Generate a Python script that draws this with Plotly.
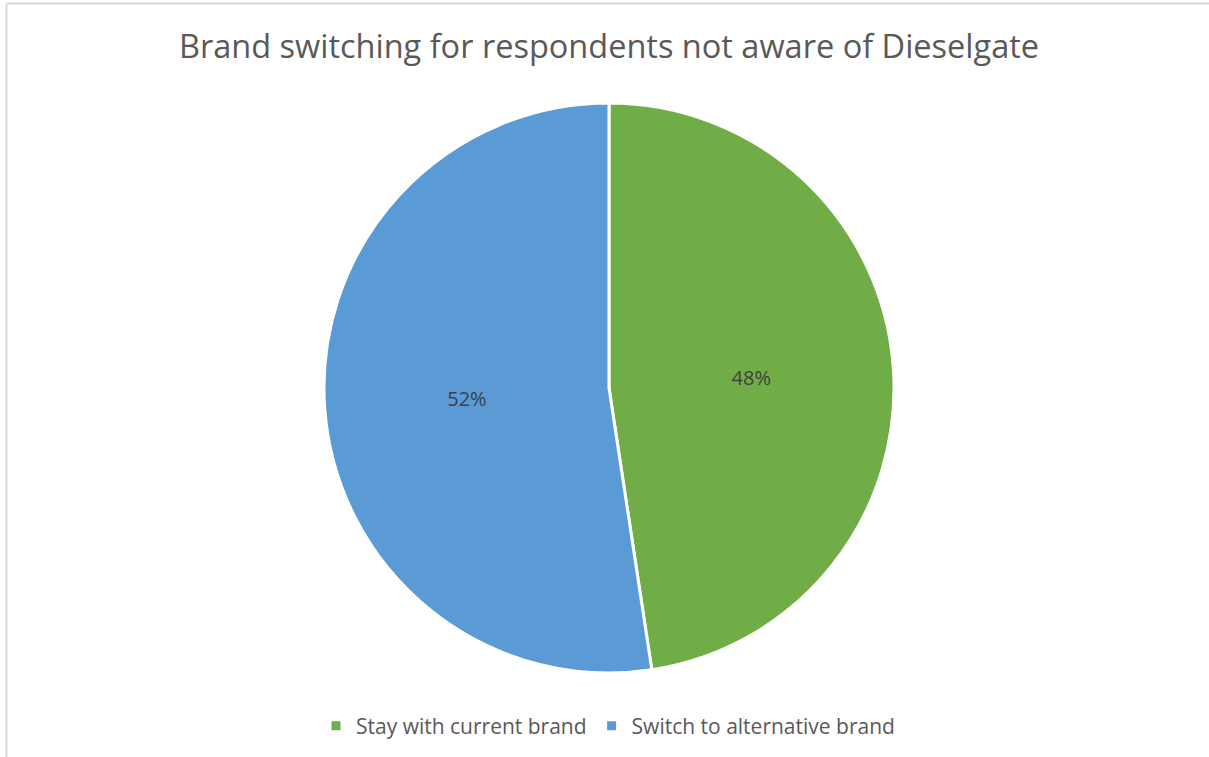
import plotly.graph_objects as go

title_text = "Brand switching for respondents not aware of Dieselgate"
categories = ["Stay with current brand", "Switch to alternative brand"]
values = [47.6, 52.4]
colors = ["#70AD47", "#5B9BD5"]

W, H = 1209, 757

fig = go.Figure(go.Pie(
    labels=categories,
    values=values,
    sort=False,
    direction="clockwise",
    rotation=0,
    marker=dict(colors=colors, line=dict(color="white", width=3)),
    texttemplate="%{percent:.0%}",
    textposition="inside",
    insidetextorientation="horizontal",
    textfont=dict(family="Open Sans", size=20, color="#404040"),
    hoverinfo="label+percent",
    domain=dict(x=[9 / W, 1], y=[(H - 673) / H, (H - 103) / H]),
))

fig.update_layout(
    width=W, height=H,
    margin=dict(l=0, r=0, t=0, b=0),
    paper_bgcolor="white",
    plot_bgcolor="white",
    title=dict(text=title_text, x=609 / W, xanchor="center", y=1 - 47 / H, yanchor="middle",
               font=dict(family="Open Sans", size=32.5, color="#595959")),
    legend=dict(orientation="h", x=608 / W, xanchor="center", y=1 - 726 / H, yanchor="middle",
                font=dict(family="Open Sans", size=21, color="#595959"),
                itemwidth=30, traceorder="normal"),
    shapes=[
        dict(type="line", xref="paper", yref="paper", x0=6.5 / W, x1=1, y0=1 - 3.5 / H, y1=1 - 3.5 / H,
             line=dict(color="#D9D9D9", width=2)),
        dict(type="line", xref="paper", yref="paper", x0=6.5 / W, x1=6.5 / W, y0=0, y1=1 - 3.5 / H,
             line=dict(color="#D9D9D9", width=2)),
    ],
)

fig.write_html("out.html")
